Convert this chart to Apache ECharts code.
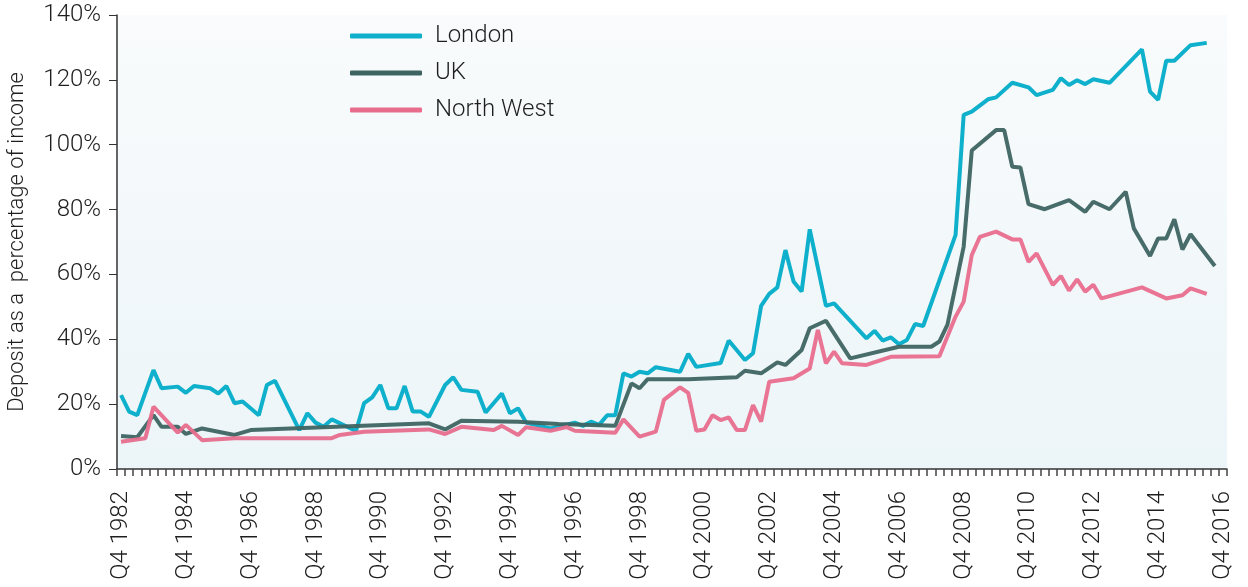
<!DOCTYPE html>
<html>
<head>
<meta charset="utf-8">
<script src="https://cdn.jsdelivr.net/npm/echarts@6/dist/echarts.min.js"></script>
<style>
  html, body { margin: 0; padding: 0; background: #fff; }
  #chart { width: 1248px; height: 587px; }
</style>
</head>
<body>
<div id="chart"></div>
<script>
// quarters from Q4 1982 to Q4 2016
let quarters = [];
for (let y = 1982; y <= 2016; y++) {
    for (let q = 1; q <= 4; q++) {
        if (y === 1982 && q < 4) continue;
        quarters.push('Q' + q + ' ' + y);
    }
}

let yTicks = [0, 20, 40, 60, 80, 100, 120, 140];

// deposit as % of income
let london = [
    ['Q4 1982', 22.8], ['Q1 1983', 17.7], ['Q2 1983', 16.6], ['Q4 1983', 30.5], ['Q1 1984', 24.9],
    ['Q3 1984', 25.4], ['Q4 1984', 23.5], ['Q1 1985', 25.6], ['Q3 1985', 24.9], ['Q4 1985', 23.3],
    ['Q1 1986', 25.6], ['Q2 1986', 20.3], ['Q3 1986', 20.8], ['Q1 1987', 16.6], ['Q2 1987', 25.9],
    ['Q3 1987', 27.2], ['Q2 1988', 12.0], ['Q3 1988', 17.2], ['Q4 1988', 14.3], ['Q1 1989', 13.0],
    ['Q2 1989', 15.3], ['Q1 1990', 11.7], ['Q2 1990', 20.3], ['Q3 1990', 22.1], ['Q4 1990', 25.9],
    ['Q1 1991', 18.7], ['Q2 1991', 18.7], ['Q3 1991', 25.6], ['Q4 1991', 17.7], ['Q1 1992', 17.7],
    ['Q2 1992', 16.1], ['Q4 1992', 25.9], ['Q1 1993', 28.3], ['Q2 1993', 24.4], ['Q4 1993', 23.8],
    ['Q1 1994', 17.4], ['Q3 1994', 23.3], ['Q4 1994', 17.2], ['Q1 1995', 18.7], ['Q2 1995', 14.3],
    ['Q1 1996', 12.5], ['Q4 1996', 14.3], ['Q1 1997', 13.3], ['Q2 1997', 14.6], ['Q3 1997', 13.6],
    ['Q4 1997', 16.6], ['Q1 1998', 16.6], ['Q2 1998', 29.5], ['Q3 1998', 28.5], ['Q4 1998', 30.0],
    ['Q1 1999', 29.5], ['Q2 1999', 31.4], ['Q1 2000', 30.0], ['Q2 2000', 35.5], ['Q3 2000', 31.5],
    ['Q2 2001', 32.7], ['Q3 2001', 39.6], ['Q1 2002', 33.6], ['Q2 2002', 35.7], ['Q3 2002', 50.3],
    ['Q4 2002', 54.0], ['Q1 2003', 56.0], ['Q2 2003', 67.5], ['Q3 2003', 57.8], ['Q4 2003', 54.7],
    ['Q1 2004', 73.9], ['Q3 2004', 50.3], ['Q4 2004', 51.1], ['Q4 2005', 40.3], ['Q1 2006', 42.6],
    ['Q2 2006', 39.6], ['Q3 2006', 40.6], ['Q4 2006', 38.5], ['Q1 2007', 39.8], ['Q2 2007', 44.7],
    ['Q3 2007', 44.1], ['Q3 2008', 72.2], ['Q4 2008', 109.2], ['Q1 2009', 110.2], ['Q3 2009', 114.0],
    ['Q4 2009', 114.6], ['Q2 2010', 119.1], ['Q4 2010', 117.7], ['Q1 2011', 115.3], ['Q3 2011', 116.9],
    ['Q4 2011', 120.5], ['Q1 2012', 118.4], ['Q2 2012', 119.9], ['Q3 2012', 118.7], ['Q4 2012', 120.2],
    ['Q2 2013', 119.1], ['Q2 2014', 129.4], ['Q3 2014', 116.4], ['Q4 2014', 113.8], ['Q1 2015', 125.9],
    ['Q2 2015', 125.9], ['Q4 2015', 130.7], ['Q2 2016', 131.4]
];

let uk = [
    ['Q4 1982', 10.2], ['Q2 1983', 9.8], ['Q4 1983', 16.6], ['Q1 1984', 13.0], ['Q3 1984', 13.0],
    ['Q4 1984', 10.8], ['Q2 1985', 12.5], ['Q2 1986', 10.5], ['Q4 1986', 12.0], ['Q2 1992', 14.1],
    ['Q4 1992', 12.2], ['Q2 1993', 14.9], ['Q1 1995', 14.6], ['Q2 1996', 13.9], ['Q1 1998', 13.3],
    ['Q3 1998', 26.4], ['Q4 1998', 24.9], ['Q1 1999', 27.7], ['Q2 2000', 27.7], ['Q4 2001', 28.3],
    ['Q1 2002', 30.3], ['Q3 2002', 29.5], ['Q1 2003', 32.9], ['Q2 2003', 32.1], ['Q4 2003', 36.7],
    ['Q1 2004', 43.4], ['Q3 2004', 45.7], ['Q2 2005', 34.1], ['Q4 2006', 37.7], ['Q4 2007', 37.7],
    ['Q1 2008', 39.3], ['Q2 2008', 44.5], ['Q4 2008', 68.6], ['Q1 2009', 98.2], ['Q4 2009', 104.5],
    ['Q1 2010', 104.5], ['Q2 2010', 93.2], ['Q3 2010', 93.0], ['Q4 2010', 81.7], ['Q2 2011', 80.1],
    ['Q1 2012', 82.9], ['Q3 2012', 79.3], ['Q4 2012', 82.4], ['Q2 2013', 80.1], ['Q4 2013', 85.5],
    ['Q1 2014', 74.2], ['Q3 2014', 65.7], ['Q4 2014', 71.1], ['Q1 2015', 71.1], ['Q2 2015', 77.0],
    ['Q3 2015', 67.7], ['Q4 2015', 72.4], ['Q3 2016', 62.6]
];

let northWest = [
    ['Q4 1982', 8.4], ['Q3 1983', 9.5], ['Q4 1983', 19.2], ['Q3 1984', 11.2], ['Q4 1984', 13.6],
    ['Q2 1985', 8.9], ['Q2 1986', 9.5], ['Q2 1989', 9.5], ['Q3 1989', 10.5], ['Q2 1990', 11.5],
    ['Q2 1992', 12.2], ['Q4 1992', 10.8], ['Q2 1993', 13.0], ['Q2 1994', 12.0], ['Q3 1994', 13.3],
    ['Q1 1995', 10.5], ['Q2 1995', 12.9], ['Q1 1996', 11.8], ['Q3 1996', 12.9], ['Q4 1996', 11.8],
    ['Q1 1998', 11.2], ['Q2 1998', 15.3], ['Q4 1998', 10.0], ['Q2 1999', 11.5], ['Q3 1999', 21.3],
    ['Q1 2000', 25.2], ['Q2 2000', 23.5], ['Q3 2000', 11.8], ['Q4 2000', 12.2], ['Q1 2001', 16.6],
    ['Q2 2001', 15.1], ['Q3 2001', 15.9], ['Q4 2001', 12.0], ['Q1 2002', 12.0], ['Q2 2002', 19.7],
    ['Q3 2002', 14.6], ['Q4 2002', 26.9], ['Q3 2003', 28.0], ['Q1 2004', 31.0], ['Q2 2004', 42.9],
    ['Q3 2004', 32.6], ['Q4 2004', 36.2], ['Q1 2005', 32.6], ['Q4 2005', 32.1], ['Q3 2006', 34.6],
    ['Q1 2008', 34.8], ['Q3 2008', 47.0], ['Q4 2008', 51.6], ['Q1 2009', 66.0], ['Q2 2009', 71.6],
    ['Q4 2009', 73.2], ['Q2 2010', 70.8], ['Q3 2010', 70.8], ['Q4 2010', 63.9], ['Q1 2011', 66.5],
    ['Q3 2011', 56.8], ['Q4 2011', 59.5], ['Q1 2012', 55.0], ['Q2 2012', 58.5], ['Q3 2012', 54.7],
    ['Q4 2012', 56.8], ['Q1 2013', 52.6], ['Q2 2014', 56.0], ['Q1 2015', 52.6], ['Q3 2015', 53.6],
    ['Q4 2015', 55.7], ['Q2 2016', 54.0]
];

let seriesNames = ['London', 'UK', 'North West'];
let seriesColors = ['#0fb0cb', '#3e6462', '#e86d8d'];

let fontName = 'Roboto';
let textColor = '#1e1e1e';

var depositChart = echarts.init(document.getElementById('chart'));

let option = {
    animation: false,
    textStyle: { fontFamily: fontName, fontWeight: 300 },
    grid: {
        left: 117,
        right: 21,
        top: 15,
        bottom: 118,
        outerBoundsMode: 'none',
        containLabel: false,
        show: true,
        borderWidth: 0,
        backgroundColor: new echarts.graphic.LinearGradient(0, 0, 0, 1, [
            { offset: 0, color: '#f9fbfc' },
            { offset: 1, color: '#ecf5f8' }
        ])
    },
    legend: {
        orient: 'vertical',
        left: 345,
        top: 19,
        icon: 'roundRect',
        itemWidth: 72,
        itemHeight: 5,
        itemGap: 13,
        data: seriesNames,
        textStyle: {
            fontFamily: fontName,
            fontWeight: 300,
            fontSize: 24,
            color: textColor,
            padding: [0, 0, 0, 8]
        }
    },
    xAxis: {
        type: 'category',
        data: quarters,
        boundaryGap: true,
        axisLine: { show: true, lineStyle: { color: '#333', width: 1.5 } },
        axisTick: {
            show: true,
            interval: 0,
            length: 7,
            lineStyle: { color: '#444', width: 1.5 }
        },
        axisLabel: {
            interval: function (index) { return index % 8 === 0; },
            rotate: 90,
            margin: 22,
            fontSize: 24,
            fontFamily: fontName,
            fontWeight: 300,
            color: textColor
        },
        splitLine: { show: false }
    },
    yAxis: {
        type: 'value',
        min: yTicks[0],
        max: yTicks[yTicks.length - 1],
        interval: 20,
        name: 'Deposit as a  percentage of income',
        nameLocation: 'middle',
        nameRotate: 90,
        nameGap: 89,
        nameMoveOverlap: false,
        nameTextStyle: {
            fontSize: 22,
            fontFamily: fontName,
            fontWeight: 300,
            color: textColor
        },
        axisLine: { show: true, lineStyle: { color: '#333', width: 1.5 } },
        axisTick: { show: true, length: 8, lineStyle: { color: '#333' } },
        axisLabel: {
            formatter: '{value}%',
            margin: 16,
            fontSize: 24,
            fontFamily: fontName,
            fontWeight: 300,
            color: textColor
        },
        splitLine: { show: false }
    },
    series: [
        {
            name: seriesNames[0],
            type: 'line',
            data: london,
            showSymbol: false,
            symbol: 'none',
            color: seriesColors[0],
            lineStyle: { width: 4, color: seriesColors[0] }
        },
        {
            name: seriesNames[1],
            type: 'line',
            data: uk,
            showSymbol: false,
            symbol: 'none',
            color: seriesColors[1],
            lineStyle: { width: 4, color: seriesColors[1], opacity: 0.95 }
        },
        {
            name: seriesNames[2],
            type: 'line',
            data: northWest,
            showSymbol: false,
            symbol: 'none',
            color: seriesColors[2],
            lineStyle: { width: 4, color: seriesColors[2], opacity: 0.95 }
        }
    ]
};

depositChart.setOption(option);
</script>
</body>
</html>
